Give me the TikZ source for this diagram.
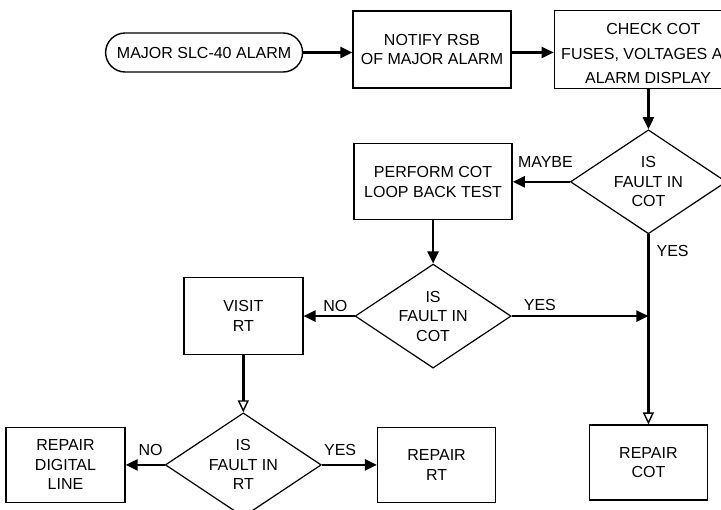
\documentclass[tikz,border=0pt]{standalone}
\usepackage{fontspec}
\setmainfont{Liberation Sans}
\usetikzlibrary{arrows.meta, positioning, shapes.geometric}

\begin{document}
\begin{tikzpicture}[
  x=1pt, y=-1pt,
  box/.style={draw, line width=1.4pt, align=center, inner sep=0pt,
              font=\fontsize{16}{19.5}\selectfont},
  term/.style={box, rounded corners=19.5pt, minimum width=197pt,
               minimum height=39pt},
  test/.style={box, diamond, shape aspect=1.5, line width=1.2pt,
               minimum width=156pt, minimum height=104pt},
  lbl/.style={font=\fontsize{16}{19.5}\selectfont, inner sep=0pt},
  arr/.style={-{Triangle[length=12pt, width=11pt]}, line width=2.4pt},
  arropen/.style={-{Triangle[open, length=12pt, width=11pt, line width=1.4pt]},
                  line width=2.4pt},
]
  \useasboundingbox[fill=white] (0,0) rectangle (721,510);
  \clip (0,0) rectangle (721,510);

  \node[box, minimum width=158pt, minimum height=77pt] (notify) at (432,49.5)
    {NOTIFY RSB\\OF MAJOR ALARM};
  \node[term, left=49pt of notify, yshift=-3pt] (alarm) {MAJOR SLC-40 ALARM};
  \node[box, minimum width=198pt, minimum height=78pt,
        font=\fontsize{16}{24.5}\selectfont, right=42pt of notify] (check)
    {\rule{0pt}{20pt}CHECK COT\\FUSES, VOLTAGES A\phantom{ND}\\ALARM DISPLAY\phantom{S}};

  \node[test, below=40pt of check, xshift=-5pt] (cot1) {IS\\FAULT IN\\COT};
  \node[box, minimum width=158pt, minimum height=76pt, left=57pt of cot1] (loop)
    {PERFORM COT\\LOOP BACK TEST};
  \node[test, below=43pt of loop] (cot2) {IS\\FAULT IN\\COT};
  \node[box, minimum width=119pt, minimum height=77pt, left=51pt of cot2] (visit)
    {VISIT\\RT};
  \node[test, below=57pt of visit] (rt) {IS\\FAULT IN\\RT};
  \node[box, minimum width=119pt, minimum height=75pt, left=39pt of rt] (digital)
    {REPAIR\\DIGITAL\\LINE};
  \node[box, minimum width=118pt, minimum height=75pt, right=55pt of rt] (fixrt)
    {REPAIR\\RT};
  \node[box, minimum width=118pt, minimum height=75pt, below=190pt of cot1] (fixcot)
    {REPAIR\\COT};

  \coordinate (join) at (cot1.south |- cot2.east);

  % Flow
  \draw[arr] (alarm.east) -- (alarm.east -| notify.west);
  \draw[arr] (notify.east |- alarm.east) -- (check.west |- alarm.east);
  \draw[arr] (cot1.north |- check.south) -- (cot1.north);
  \draw[arr] (cot1.west) -- (loop.east);
  \draw[arr] (loop.south) -- (cot2.north);
  \draw[arr] (cot2.west) -- (visit.east);
  \draw[arr] (cot2.east) -- (join);
  \draw[arropen] (cot1.south) -- (fixcot.north);
  \draw[arropen] (visit.south) -- (rt.north);
  \draw[arr] (rt.west) -- (digital.east);
  \draw[arr] (rt.east) -- (fixrt.west);

  % Branch labels
  \node[lbl, above right=14pt and 5pt of loop.east] (maybe) {MAYBE};
  \node[lbl, below right=11pt and 8pt of cot1.south] (yes0) {YES};
  \node[lbl, above left=4pt and 7pt of cot2.west] (no1) {NO};
  \node[lbl, above right=5pt and 12pt of cot2.east] (yes1) {YES};
  \node[lbl, above left=9pt and 2pt of rt.west] (no2) {NO};
  \node[lbl, above right=9pt and 2pt of rt.east] (yes2) {YES};
\end{tikzpicture}
\end{document}
